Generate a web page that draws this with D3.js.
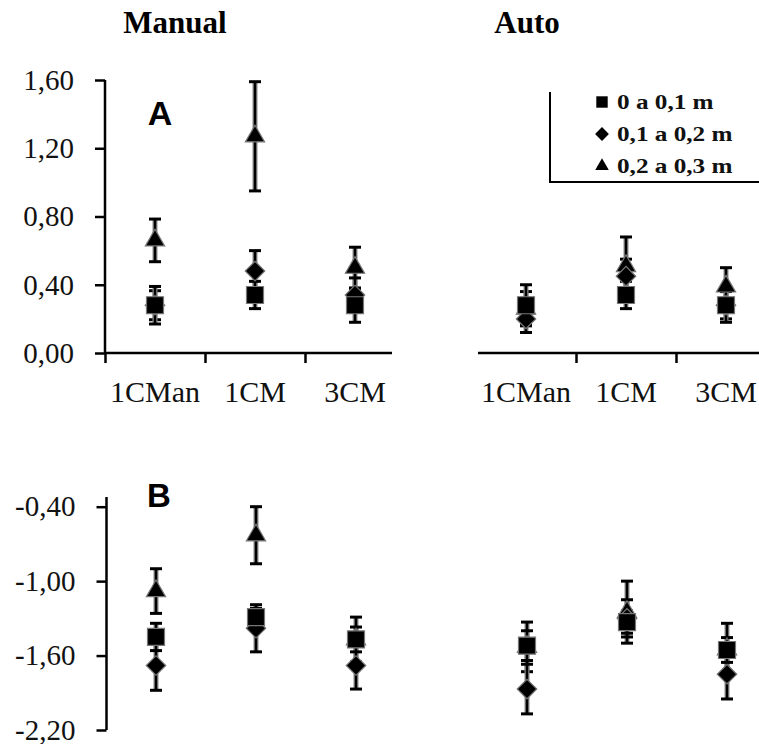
<!DOCTYPE html>
<html>
<head>
<meta charset="utf-8">
<script src="https://cdn.jsdelivr.net/npm/d3@7"></script>
<style>
  body { margin: 0; background: #fff; }
  svg { display: block; }
</style>
</head>
<body>
<div class="chart"></div>
<script>
const categories = ["1CMan", "1CM", "3CM"];
const layers = ["0 a 0,1 m", "0,1 a 0,2 m", "0,2 a 0,3 m"];
const shapes = ["square", "diamond", "triangle"];

// mean and error per layer (rows) and category (columns)
const aManual = [[0.28, 0.34, 0.28], [0.28, 0.48, 0.34], [0.66, 1.27, 0.50]];
const aManualErr = [[0.11, 0.08, 0.10], [0.085, 0.12, 0.10], [0.125, 0.32, 0.12]];
const aAuto = [[0.28, 0.34, 0.28], [0.20, 0.45, 0.28], [0.26, 0.51, 0.39]];
const aAutoErr = [[0.12, 0.08, 0.10], [0.08, 0.10, 0.08], [0.10, 0.17, 0.11]];
const bManual = [[-1.45, -1.29, -1.47], [-1.68, -1.38, -1.68], [-1.08, -0.63, -1.47]];
const bManualErr = [[0.11, 0.07, 0.10], [0.20, 0.19, 0.19], [0.18, 0.23, 0.18]];
const bAuto = [[-1.52, -1.33, -1.555], [-1.87, -1.30, -1.75], [-1.53, -1.25, -1.55]];
const bAutoErr = [[0.12, 0.09, 0.10], [0.20, 0.15, 0.20], [0.20, 0.25, 0.21]];

const aTicks = [0, 0.4, 0.8, 1.2, 1.6];
const bTicks = [-2.2, -1.6, -1.0, -0.4];

const width = 759, height = 744;
const serif = "'Liberation Serif','Times New Roman',serif";
const sans = "'Liberation Sans',Arial,sans-serif";

const svg = d3.select(".chart").append("svg")
    .attr("width", width).attr("height", height)
    .attr("viewBox", "0 0 " + width + " " + height);

// scales
const yA = d3.scaleLinear().domain([0, 1.6]).range([353, 80]);
const yB = d3.scaleLinear().domain([-2.2, -0.4]).range([730, 506.7]);
const xAL = d3.scaleLinear().domain([0, 3]).range([105, 405]);
const xAR = d3.scaleLinear().domain([0, 3]).range([476, 776]);
const xBL = d3.scaleLinear().domain([0, 3]).range([106, 406]);
const xBR = d3.scaleLinear().domain([0, 3]).range([477, 777]);

const fmt = d => (d < 0 ? "-" : "") + Math.abs(d).toFixed(2).replace(".", ",");

function symbolPath(shape, big) {
    if (shape == "square") return d3.symbol(d3.symbolSquare, big ? 289 : 130)();
    if (shape == "diamond") return d3.symbol(d3.symbolSquare, big ? 190 : 95)();
    return d3.symbol(d3.symbolTriangle, big ? 160 : 80)();
}

function styleAxis(g) {
    g.selectAll("line").attr("stroke", "#000").attr("stroke-width", 2.5);
    g.selectAll("path").attr("stroke", "#000").attr("stroke-width", 2.5);
    g.selectAll("text").attr("fill", "#111")
        .style("font-family", serif).style("font-size", "29px");
}

// y axis
function yAxis(x0, y, ticks, top) {
    const g = svg.append("g").attr("transform", "translate(" + x0 + ",0)")
        .call(d3.axisLeft(y).tickValues(ticks).tickSize(10).tickSizeOuter(0)
            .tickPadding(21).tickFormat(fmt));
    g.select(".domain").remove();
    g.append("line").attr("x1", 0).attr("x2", 0)
        .attr("y1", y(ticks[0])).attr("y2", top);
    styleAxis(g);
}

// x axis (category ticks between groups)
function xAxis(x, y0, ticks, from, to) {
    const g = svg.append("g").attr("transform", "translate(0," + y0 + ")")
        .call(d3.axisBottom(x).tickValues(ticks).tickSize(10).tickFormat(""));
    g.select(".domain").remove();
    g.append("line").attr("x1", x(from)).attr("x2", x(to)).attr("y1", 0).attr("y2", 0);
    styleAxis(g);
    g.selectAll("text.cat")
        .data(categories)
        .enter()
        .append("text")
        .attr("class", "cat")
        .attr("x", (d, i) => x(i + 0.5))
        .attr("y", 49)
        .attr("text-anchor", "middle")
        .style("font-family", serif).style("font-size", "30px")
        .attr("fill", "#111")
        .text(d => d);
}

function points(x, y, means, errs) {
    const g = svg.append("g");
    const order = [2, 1, 0];
    const rows = [];
    order.forEach(k => {
        categories.forEach((c, i) => {
            rows.push({ k: k, i: i, v: means[k][i], e: errs[k][i] });
        });
    });
    // error bars
    const eb = g.selectAll("g.err").data(rows).enter().append("g").attr("class", "err");
    eb.append("line")
        .attr("x1", d => x(d.i + 0.5)).attr("x2", d => x(d.i + 0.5))
        .attr("y1", d => y(d.v + d.e)).attr("y2", d => y(d.v - d.e))
        .attr("stroke", "#8a8a8a").attr("stroke-width", 5);
    eb.append("line")
        .attr("x1", d => x(d.i + 0.5)).attr("x2", d => x(d.i + 0.5))
        .attr("y1", d => y(d.v + d.e)).attr("y2", d => y(d.v - d.e))
        .attr("stroke", "#000").attr("stroke-width", 2.5);
    [1, -1].forEach(s => {
        eb.append("line")
            .attr("x1", d => x(d.i + 0.5) - 6).attr("x2", d => x(d.i + 0.5) + 6)
            .attr("y1", d => y(d.v + s * d.e)).attr("y2", d => y(d.v + s * d.e))
            .attr("stroke", "#000").attr("stroke-width", 3);
    });
    // markers
    g.selectAll("path.mark").data(rows).enter().append("path")
        .attr("class", "mark")
        .attr("d", d => symbolPath(shapes[d.k], true))
        .attr("transform", d => "translate(" + x(d.i + 0.5) + "," + y(d.v) + ")" +
            (shapes[d.k] == "diamond" ? " rotate(45)" : ""))
        .attr("fill", "#000")
        .attr("stroke", "#777")
        .attr("stroke-width", 1.2);
}

// panel A
yAxis(105, yA, aTicks, 80);
xAxis(xAL, 353, [0, 1, 2], 0, 2.87);
xAxis(xAR, 353, [1, 2], 0.02, 3);
points(xAL, yA, aManual, aManualErr);
points(xAR, yA, aAuto, aAutoErr);

// panel B
yAxis(106.5, yB, bTicks, 497);
points(xBL, yB, bManual, bManualErr);
points(xBR, yB, bAuto, bAutoErr);

// titles
svg.append("text").attr("x", 175).attr("y", 33).attr("text-anchor", "middle")
    .style("font-family", serif).style("font-size", "31px").style("font-weight", "bold")
    .text("Manual");
svg.append("text").attr("x", 527).attr("y", 33).attr("text-anchor", "middle")
    .style("font-family", serif).style("font-size", "31px").style("font-weight", "bold")
    .text("Auto");
svg.append("text").attr("x", 160).attr("y", 125).attr("text-anchor", "middle")
    .style("font-family", sans).style("font-size", "34px").style("font-weight", "bold")
    .text("A");
svg.append("text").attr("x", 159).attr("y", 507).attr("text-anchor", "middle")
    .style("font-family", sans).style("font-size", "33px").style("font-weight", "bold")
    .text("B");

// legend
const leg = svg.append("g");
leg.append("path").attr("d", "M550,92V182H759")
    .attr("fill", "none").attr("stroke", "#000").attr("stroke-width", 2);
const legRows = leg.selectAll("g.item").data(layers).enter().append("g")
    .attr("class", "item")
    .attr("transform", (d, i) => "translate(602," + (102 + i * 32) + ")");
legRows.append("path")
    .attr("d", (d, i) => symbolPath(shapes[i], false))
    .attr("transform", (d, i) => shapes[i] == "diamond" ? "rotate(45)" : "")
    .attr("fill", "#000");
legRows.append("text")
    .attr("transform", "translate(15,7) scale(1.2,1)")
    .style("font-family", serif).style("font-size", "21px").style("font-weight", "bold")
    .attr("fill", "#111")
    .text(d => d);
</script>
</body>
</html>
